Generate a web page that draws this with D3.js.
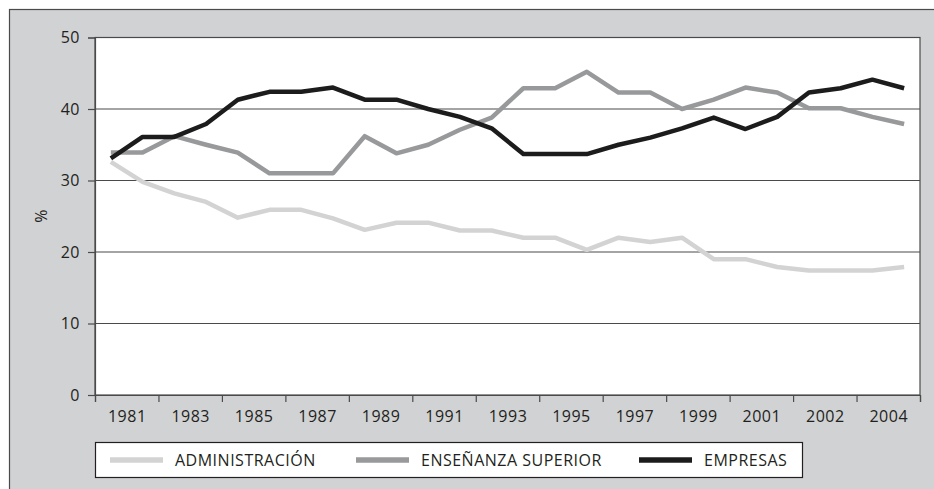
<meta charset="utf-8">
<title>Distribución por sectores</title>
<style>
  body { margin: 0; background: #fff; }
  svg { display: block; font-family: "Open Sans", "Noto Sans", sans-serif; letter-spacing: 0.5px; }
</style>
<svg width="934" height="489"></svg>
<script src="https://cdn.jsdelivr.net/npm/d3@7/dist/d3.min.js"></script>
<script>

// categories (26 points, label every second one)
var years = ["1981","1982","1983","1984","1985","1986","1987","1988","1989","1990",
             "1991","1992","1993","1994","1995","1996","1997","1998","1999","2000",
             "2001","2001","2002","2003","2004","2005"];

var administracion = [32.6, 29.8, 28.2, 27.0, 24.8, 25.9, 25.9, 24.7, 23.1, 24.1,
                      24.1, 23.0, 23.0, 22.0, 22.0, 20.3, 22.0, 21.4, 22.0, 19.0,
                      19.0, 17.9, 17.4, 17.4, 17.4, 17.9];

var ensenanza = [33.9, 33.9, 36.2, 35.0, 33.9, 31.0, 31.0, 31.0, 36.2, 33.8,
                 35.0, 37.1, 38.8, 42.9, 42.9, 45.2, 42.3, 42.3, 40.0, 41.3,
                 43.0, 42.3, 40.1, 40.1, 38.9, 37.9];

var empresas = [33.1, 36.1, 36.1, 37.9, 41.3, 42.4, 42.4, 43.0, 41.3, 41.3,
                40.0, 38.9, 37.3, 33.7, 33.7, 33.7, 35.0, 36.0, 37.3, 38.8,
                37.2, 38.9, 42.3, 42.9, 44.1, 42.9];

var yTicks = [0, 10, 20, 30, 40, 50];

var series = [
  { name: "ADMINISTRACIÓN", values: administracion, color: "#d3d3d3" },
  { name: "ENSEÑANZA SUPERIOR", values: ensenanza, color: "#98999b" },
  { name: "EMPRESAS", values: empresas, color: "#1c1c1c" }
];

var svg = d3.select("svg");
var plotL = 95, plotR = 920, plotT = 37.5, plotB = 395;

// outer grey frame
svg.append("rect")
  .attr("x", 9.5).attr("y", 9.5)
  .attr("width", 940).attr("height", 500)
  .attr("fill", "#d1d2d4")
  .attr("stroke", "#4a4a4a")
  .attr("stroke-width", 1.2);

var x = d3.scaleLinear().domain([0, years.length]).range([plotL, plotR]);
var y = d3.scaleLinear().domain([0, 50]).range([plotB, plotT]);

// plot area
svg.append("rect")
  .attr("x", plotL).attr("y", plotT)
  .attr("width", plotR - plotL).attr("height", plotB - plotT)
  .attr("fill", "#fff")
  .attr("stroke", "#4a4a4a")
  .attr("stroke-width", 1.2);

// gridlines
svg.append("g")
  .selectAll("line")
  .data(yTicks.filter(function(d){ return d > 0 && d < 50; }))
  .enter()
  .append("line")
  .attr("x1", plotL).attr("x2", plotR)
  .attr("y1", function(d){ return y(d); })
  .attr("y2", function(d){ return y(d); })
  .attr("stroke", "#4a4a4a")
  .attr("stroke-width", 1.2);

// y axis
var yAxis = svg.append("g")
  .attr("transform", "translate(" + plotL + ",0)")
  .call(d3.axisLeft(y).tickValues(yTicks).tickSize(7).tickPadding(8));

// x axis: tick marks between every pair of categories
var tickPos = d3.range(0, years.length + 1, 2);
var xAxis = svg.append("g")
  .attr("transform", "translate(0," + plotB + ")")
  .call(d3.axisBottom(x).tickValues(tickPos).tickSize(7).tickFormat(""));

// x labels centred on each pair
var labelPos = d3.range(1, years.length, 2);
var xLabels = svg.append("g")
  .attr("transform", "translate(0," + plotB + ")")
  .call(d3.axisBottom(x).tickValues(labelPos).tickSize(0).tickPadding(16)
    .tickFormat(function(d){ return years[d - 1]; }));
xLabels.select(".domain").remove();

[yAxis, xAxis, xLabels].forEach(function(g){
  g.selectAll("path, line").attr("stroke", "#4a4a4a").attr("stroke-width", 1.2);
  g.selectAll("text").attr("font-size", 16).attr("fill", "#231f20")
    .attr("font-family", "'Open Sans', 'Noto Sans', sans-serif");
});

// y title
svg.append("text")
  .attr("transform", "translate(47,216) rotate(-90)")
  .attr("text-anchor", "middle")
  .attr("font-size", 16)
  .attr("fill", "#231f20")
  .text("%");

// lines
var line = d3.line()
  .x(function(d, i){ return x(i + 0.5); })
  .y(function(d){ return y(d); });

svg.append("g")
  .selectAll("path")
  .data(series)
  .enter()
  .append("path")
  .attr("d", function(d){ return line(d.values); })
  .attr("fill", "none")
  .attr("stroke", function(d){ return d.color; })
  .attr("stroke-width", 4.5)
  .attr("stroke-linejoin", "round");

// legend
var legend = svg.append("g");
legend.append("rect")
  .attr("x", 95.5).attr("y", 442.5)
  .attr("width", 707).attr("height", 35)
  .attr("fill", "#fff")
  .attr("stroke", "#231f20")
  .attr("stroke-width", 1.2);

var legendX = [110, 356, 639];
var items = legend.selectAll("g.item")
  .data(series)
  .enter()
  .append("g")
  .attr("class", "item")
  .attr("transform", function(d, i){ return "translate(" + legendX[i] + ",460)"; });

items.append("line")
  .attr("x1", 0).attr("x2", 53)
  .attr("stroke", function(d){ return d.color; })
  .attr("stroke-width", 5.5);

items.append("text")
  .attr("x", 65)
  .attr("dy", "0.35em")
  .attr("font-size", 16)
  .attr("fill", "#231f20")
  .text(function(d){ return d.name; });

</script>
